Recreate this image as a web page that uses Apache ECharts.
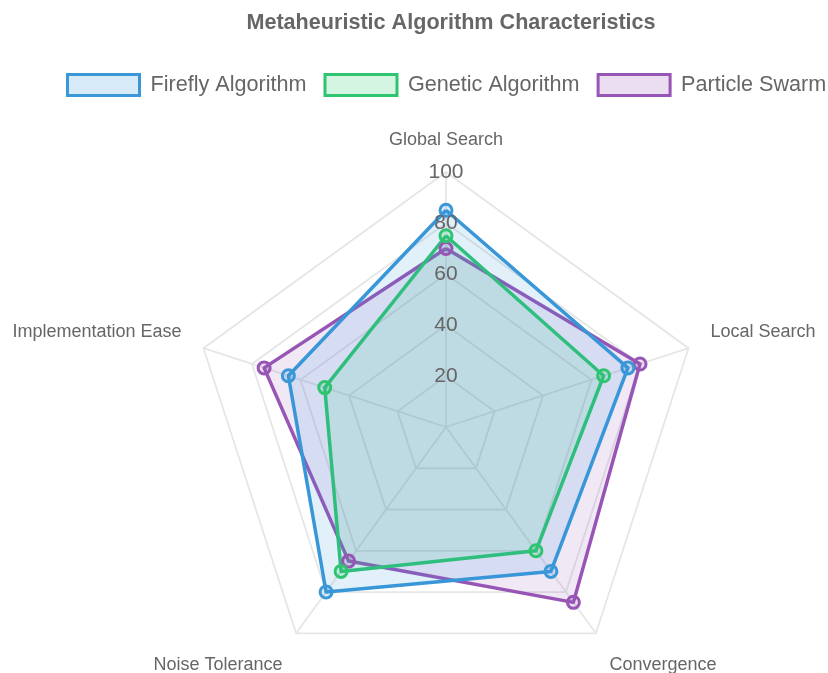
<!DOCTYPE html>
<html>
<head>
<meta charset="utf-8">
<script src="https://cdn.jsdelivr.net/npm/echarts@6/dist/echarts.min.js"></script>
<style>
  html, body { margin: 0; padding: 0; background: #fff; }
  #main { width: 828px; height: 673px; }
</style>
</head>
<body>
<div id="main"></div>
<script>
var indicatorNames = ['Global Search', 'Local Search', 'Convergence', 'Noise Tolerance', 'Implementation Ease'];
var seriesNames = ['Firefly Algorithm', 'Genetic Algorithm', 'Particle Swarm'];
var fireflyValues = [85, 75, 70, 80, 65];
var geneticValues = [75, 65, 60, 70, 50];
var particleValues = [70, 80, 85, 65, 75];
var tickMax = 100;
var tickStep = 20;

var lineColors = ['#3a97d8', '#2fc56f', '#9755b5'];
var fillColors = ['rgba(52,152,219,0.2)', 'rgba(46,204,113,0.2)', 'rgba(155,89,182,0.2)'];
var allValues = [fireflyValues, geneticValues, particleValues];

// echarts lays radar axes out counter-clockwise; the reference goes clockwise,
// so keep the first axis at the top and reverse the rest
function clockwise(arr) {
  return [arr[0]].concat(arr.slice(1).reverse());
}

var center = [446, 427];
var radius = 255;
var font = 'Liberation Sans, Arial, Helvetica, sans-serif';

// nudge the axis names a bit: sides up, bottom ones down
function nameStyle(pad) {
  return { color: '#666', fontSize: 18, fontFamily: font, padding: pad };
}
function nameKey(name) {
  var i = indicatorNames.indexOf(name);
  if (i === 0) return 't';
  if (i === 2 || i === 3) return 'b';
  return 's';
}

var option = {
  animation: false,
  textStyle: { fontFamily: font },
  title: {
    text: 'Metaheuristic Algorithm Characteristics',
    left: 446,
    textAlign: 'center',
    top: 7,
    textStyle: { fontSize: 21.6, fontWeight: 'bold', color: '#666', fontFamily: font }
  },
  legend: {
    left: 66,
    top: 73,
    width: 780,
    padding: 0,
    itemWidth: 72,
    itemHeight: 21,
    itemGap: 17,
    icon: 'rect',
    textStyle: { fontSize: 21.6, color: '#666', fontFamily: font, padding: [0, 0, 0, 6] },
    data: seriesNames.map(function (n, i) {
      return {
        name: n,
        itemStyle: { color: fillColors[i], borderColor: lineColors[i], borderWidth: 3 }
      };
    })
  },
  radar: {
    center: center,
    radius: radius,
    startAngle: 90,
    splitNumber: tickMax / tickStep,
    shape: 'polygon',
    indicator: clockwise(indicatorNames).map(function (n) { return { name: n, min: 0, max: tickMax }; }),
    nameGap: 23,
    axisName: {
      color: '#666',
      fontSize: 18,
      fontFamily: font,
      formatter: function (name) { return '{' + nameKey(name) + '|' + name + '}'; },
      rich: {
        t: nameStyle([0, 0, 0, 0]),
        s: nameStyle([0, 0, 18, 0]),
        b: nameStyle([27, 0, 0, 0])
      }
    },
    axisLine: { lineStyle: { color: '#e6e6e6', width: 1.8 } },
    splitLine: { lineStyle: { color: '#e6e6e6', width: 1.8 } },
    splitArea: { show: false }
  },
  polar: { center: center, radius: radius },
  angleAxis: { show: false, startAngle: 90, min: 0, max: 360 },
  radiusAxis: {
    min: 0,
    max: tickMax,
    interval: tickStep,
    axisLine: { show: false },
    axisTick: { show: false },
    splitLine: { show: false },
    axisLabel: {
      showMinLabel: false,
      margin: 0,
      align: 'center',
      verticalAlign: 'middle',
      fontSize: 21,
      color: '#666',
      fontFamily: font
    },
    z: 10
  },
  series: [{
    type: 'radar',
    symbol: 'circle',
    symbolSize: 12,
    data: allValues.map(function (vals, i) {
      return {
        name: seriesNames[i],
        value: clockwise(vals),
        lineStyle: { color: lineColors[i], width: 3.5 },
        areaStyle: { color: fillColors[i] },
        itemStyle: { color: fillColors[i], borderColor: lineColors[i], borderWidth: 3 }
      };
    }).reverse()
  }]
};

var chartDom = document.getElementById('main');
var myChart = echarts.init(chartDom);
option && myChart.setOption(option);
</script>
</body>
</html>
